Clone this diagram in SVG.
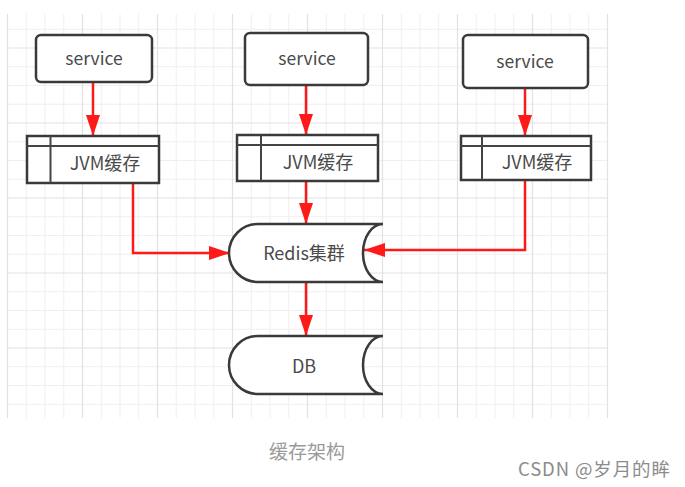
<svg xmlns="http://www.w3.org/2000/svg" width="685" height="487" viewBox="0 0 685 487">
<defs>
<style>
.minor{stroke:#efefef;stroke-width:1;fill:none}
.major{stroke:#e2e2e2;stroke-width:1.2;fill:none}
.shape{fill:#fff;stroke:#3a3a3a;stroke-width:2.5}
.line{fill:none;stroke:#444;stroke-width:2}
.conn{fill:none;stroke:#ff1a1a;stroke-width:2.5}
.lbl{font-family:"Noto Sans CJK SC","Noto Sans",sans-serif;fill:#4a4a4a;text-anchor:middle}
.cap{font-family:"Noto Sans CJK SC","Noto Sans",sans-serif;fill:#9a9a9a}
</style>
<marker id="ah" markerUnits="userSpaceOnUse" markerWidth="22" markerHeight="14" refX="21" refY="7" orient="auto">
<path d="M0,0 L21,7 L0,14 Z" fill="#ff1a1a"/>
</marker>
</defs>
<rect width="685" height="487" fill="#fff"/>
<g id="grid">
<path class="minor" d="M26.25,14V418M45,14V418M63.75,14V418M101.25,14V418M120,14V418M138.75,14V418M176.25,14V418M195,14V418M213.75,14V418M251.25,14V418M270,14V418M288.75,14V418M326.25,14V418M345,14V418M363.75,14V418M401.25,14V418M420,14V418M438.75,14V418M476.25,14V418M495,14V418M513.75,14V418M551.25,14V418M570,14V418M588.75,14V418M7.5,29.25H607.5M7.5,66.75H607.5M7.5,85.5H607.5M7.5,104.25H607.5M7.5,141.75H607.5M7.5,160.5H607.5M7.5,179.25H607.5M7.5,216.75H607.5M7.5,235.5H607.5M7.5,254.25H607.5M7.5,291.75H607.5M7.5,310.5H607.5M7.5,329.25H607.5M7.5,366.75H607.5M7.5,385.5H607.5M7.5,404.25H607.5"/>
<path class="major" d="M7.5,14V418M82.5,14V418M157.5,14V418M232.5,14V418M307.5,14V418M382.5,14V418M457.5,14V418M532.5,14V418M607.5,14V418M7.5,48H607.5M7.5,123H607.5M7.5,198H607.5M7.5,273H607.5M7.5,348H607.5"/>
</g>
<g id="connectors">
<path class="conn" d="M93,82V136" marker-end="url(#ah)"/>
<path class="conn" d="M306,85V135" marker-end="url(#ah)"/>
<path class="conn" d="M525,88V136" marker-end="url(#ah)"/>
<path class="conn" d="M133,183V253H230" marker-end="url(#ah)"/>
<path class="conn" d="M306,181V224" marker-end="url(#ah)"/>
<path class="conn" d="M525,180V250H364" marker-end="url(#ah)"/>
<path class="conn" d="M306,282V336" marker-end="url(#ah)"/>
</g>
<g id="service1">
<rect class="shape" x="36" y="35" width="116" height="47" rx="5"/>
<text class="lbl" x="94" y="65" font-size="17.5">service</text>
</g>
<g id="service2">
<rect class="shape" x="245" y="33" width="123" height="52" rx="5"/>
<text class="lbl" x="307" y="65" font-size="17.5">service</text>
</g>
<g id="service3">
<rect class="shape" x="463" y="35" width="125" height="53" rx="5"/>
<text class="lbl" x="525" y="68" font-size="17.5">service</text>
</g>
<g id="jvm1">
<rect class="shape" x="27" y="136" width="132" height="47"/>
<path class="line" d="M27,146H159M50.5,136V183"/>
<text class="lbl" x="105" y="170" font-size="18">JVM缓存</text>
</g>
<g id="jvm2">
<rect class="shape" x="237" y="135" width="141" height="46"/>
<path class="line" d="M237,145H378M261,135V181"/>
<text class="lbl" x="318" y="169" font-size="18">JVM缓存</text>
</g>
<g id="jvm3">
<rect class="shape" x="461" y="136" width="130" height="44"/>
<path class="line" d="M461,146H591M482,136V180"/>
<text class="lbl" x="537" y="169" font-size="18">JVM缓存</text>
</g>
<g id="redis">
<path class="shape" d="M258,224H383A20,29 0 0 0 383,282H258A29,29 0 0 1 258,224Z"/>
<text class="lbl" x="304" y="260" font-size="18">Redis集群</text>
</g>
<g id="db">
<path class="shape" d="M258,336H383A20,29 0 0 0 383,394H258A29,29 0 0 1 258,336Z"/>
<text class="lbl" x="304" y="373" font-size="18">DB</text>
</g>
<text class="cap" x="269" y="459" font-size="19">缓存架构</text>
<text class="cap" x="518" y="476" font-size="18.5" textLength="152" style="fill:#8c8c8c">CSDN @岁月的眸</text>
</svg>
